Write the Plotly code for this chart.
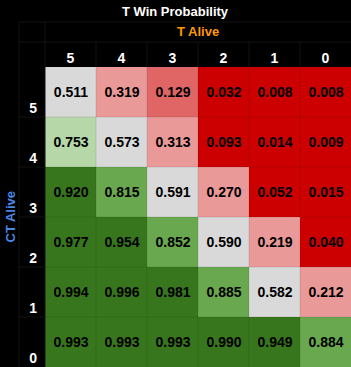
import plotly.graph_objects as go

t_alive = [5, 4, 3, 2, 1, 0]
ct_alive = [5, 4, 3, 2, 1, 0]
win_prob = [
    [0.511, 0.319, 0.129, 0.032, 0.008, 0.008],
    [0.753, 0.573, 0.313, 0.093, 0.014, 0.009],
    [0.920, 0.815, 0.591, 0.270, 0.052, 0.015],
    [0.977, 0.954, 0.852, 0.590, 0.219, 0.040],
    [0.994, 0.996, 0.981, 0.885, 0.582, 0.212],
    [0.993, 0.993, 0.993, 0.990, 0.949, 0.884],
]
bins = [0.0, 0.1, 0.2, 0.4, 0.7, 0.8, 0.9, 1.0]
bin_colors = ["#cc0000", "#e06666", "#ea9999", "#d9d9d9", "#b6d7a8", "#6aa84f", "#38761d"]

W, H = 351, 367
L, T = 45, 67
PW, PH = W - L, H - T

colorscale = []
for i, c in enumerate(bin_colors):
    colorscale.append([bins[i], c])
    colorscale.append([bins[i + 1], c])

FONT = "Liberation Sans, Arial, sans-serif"

fig = go.Figure(go.Heatmap(
    z=win_prob,
    x=list(range(len(t_alive))),
    y=list(range(len(ct_alive))),
    zmin=0, zmax=1,
    colorscale=colorscale,
    showscale=False,
    texttemplate="<b>%{z:.3f}</b>",
    textfont=dict(family=FONT, size=14, color="#000000"),
    hoverinfo="skip",
))

def px_x(p):
    return (p - L) / PW

def px_y(p):
    return 1 - (p - T) / PH

shapes = []
grid_dark = "#121212"
for yy in [22, 42]:
    shapes.append(dict(type="line", xref="paper", yref="paper", x0=px_x(19), x1=px_x(W),
                       y0=px_y(yy), y1=px_y(yy), line=dict(color=grid_dark, width=1)))
for xx in [19, 45]:
    shapes.append(dict(type="line", xref="paper", yref="paper", x0=px_x(xx), x1=px_x(xx),
                       y0=px_y(22), y1=px_y(H), line=dict(color=grid_dark, width=1)))
for i in range(1, len(t_alive)):
    shapes.append(dict(type="line", xref="x", yref="paper", x0=i - 0.5, x1=i - 0.5,
                       y0=px_y(42), y1=1, line=dict(color=grid_dark, width=1)))
for j in range(1, len(ct_alive)):
    shapes.append(dict(type="line", xref="paper", yref="y", x0=px_x(19), x1=0,
                       y0=j - 0.5, y1=j - 0.5, line=dict(color=grid_dark, width=1)))
for i in range(1, len(t_alive)):
    shapes.append(dict(type="line", xref="x", yref="y", x0=i - 0.5, x1=i - 0.5,
                       y0=-0.5, y1=len(ct_alive) - 0.5, line=dict(color="rgba(0,0,0,0.1)", width=1)))
for j in range(1, len(ct_alive)):
    shapes.append(dict(type="line", xref="x", yref="y", x0=-0.5, x1=len(t_alive) - 0.5,
                       y0=j - 0.5, y1=j - 0.5, line=dict(color="rgba(0,0,0,0.1)", width=1)))

annotations = [
    dict(text="<b>T Win Probability</b>", xref="paper", yref="paper", x=px_x(175), y=px_y(12),
         showarrow=False, font=dict(family=FONT, size=13, color="#ffffff"), xanchor="center", yanchor="middle"),
    dict(text="<b>T Alive</b>", xref="paper", yref="paper", x=0.5, y=px_y(32),
         showarrow=False, font=dict(family=FONT, size=13, color="#ff9900"), xanchor="center", yanchor="middle"),
    dict(text="<b>CT Alive</b>", xref="paper", yref="paper", x=px_x(9.5), y=0.5, textangle=-90,
         showarrow=False, font=dict(family=FONT, size=13, color="#4a86e8"), xanchor="center", yanchor="middle"),
]

fig.update_layout(
    width=W, height=H,
    margin=dict(l=L, r=0, t=T, b=0, pad=0),
    paper_bgcolor="#000000",
    plot_bgcolor="#000000",
    shapes=shapes,
    annotations=annotations,
    showlegend=False,
)
fig.update_xaxes(
    side="top", range=[-0.5, len(t_alive) - 0.5],
    tickmode="array", tickvals=list(range(len(t_alive))), ticktext=[str(v) for v in t_alive],
    tickfont=dict(family=FONT, size=14, color="#ffffff", weight="bold"),
    showgrid=False, zeroline=False, ticks="", ticklabelstandoff=0,
)
fig.update_yaxes(
    range=[len(ct_alive) - 0.5, -0.5],
    tickmode="array", tickvals=[j + 0.33 for j in range(len(ct_alive))], ticktext=[str(v) for v in ct_alive],
    tickfont=dict(family=FONT, size=14, color="#ffffff", weight="bold"),
    showgrid=False, zeroline=False, ticks="", ticklabelstandoff=7,
)

fig.write_html("out.html")
